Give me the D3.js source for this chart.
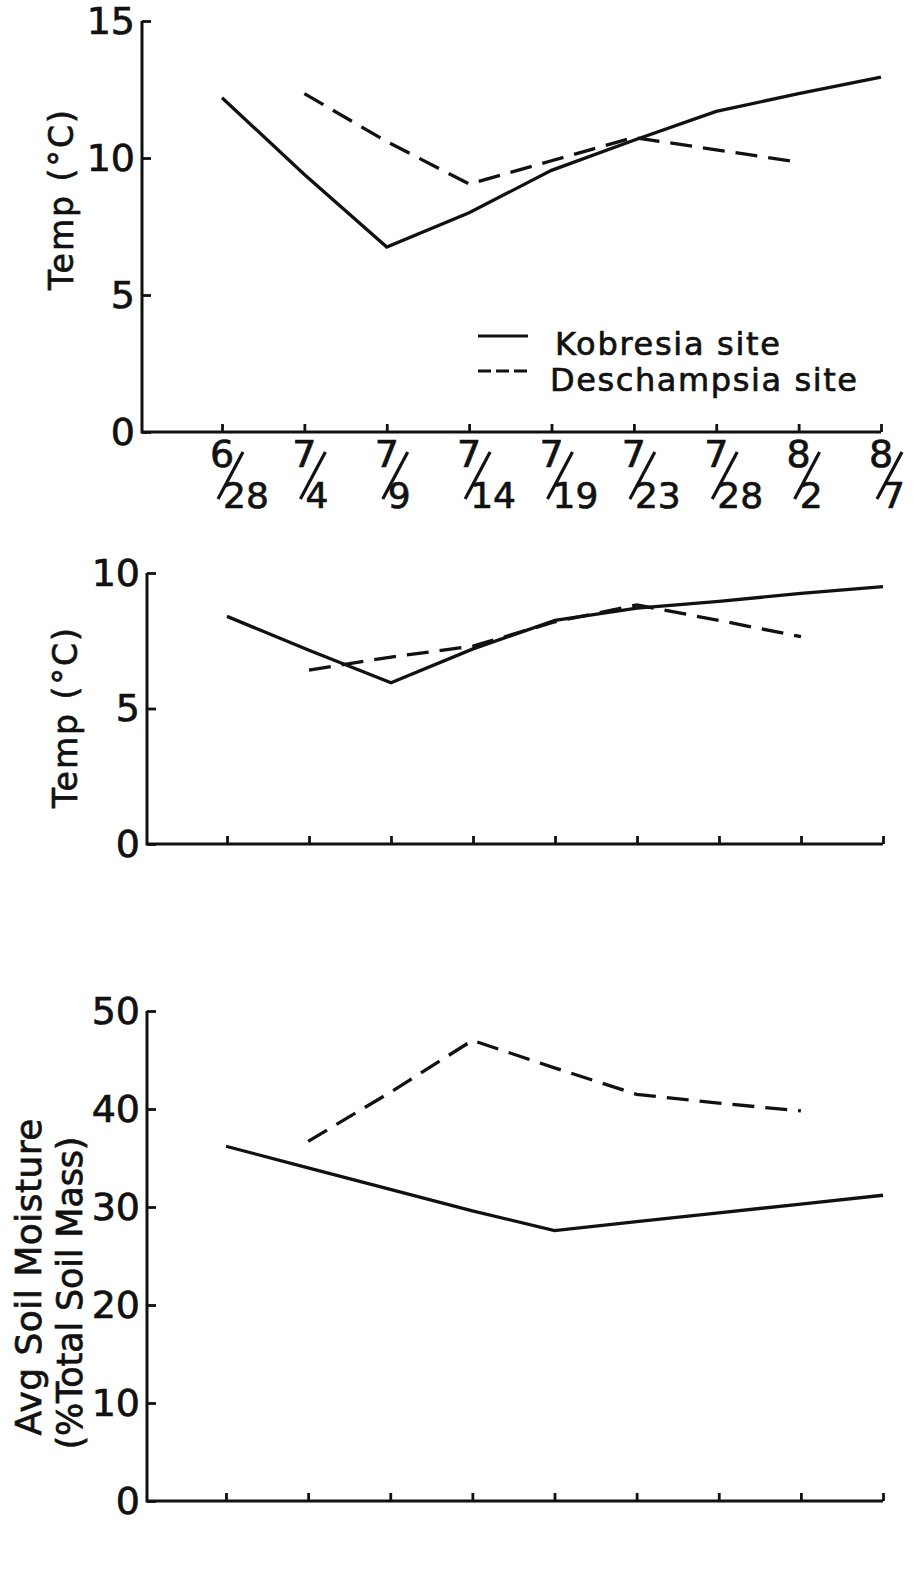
<!DOCTYPE html>
<html>
<head>
<meta charset="utf-8">
<script src="https://cdn.jsdelivr.net/npm/d3@7"></script>
<style>
  body { margin: 0; background: #fff; }
  text { font-family: "DejaVu Sans", sans-serif; fill: #111; stroke: #111; stroke-width: 0.7px; }
</style>
</head>
<body>
<svg id="chart"></svg>
<script>
// sampling dates (month/day)
const dates = ["6/28", "7/4", "7/9", "7/14", "7/19", "7/23", "7/28", "8/2", "8/7"];

// top panel: air temp (C)
const airKobresia = [12.2, 9.4, 6.75, 8.0, 9.55, 10.65, 11.7, 12.35, 12.95];
const airDeschampsia = [null, 12.35, 10.6, 9.05, 9.9, 10.75, 10.3, 9.85, null];

// middle panel: soil temp (C)
const soilKobresia = [8.4, 7.15, 5.95, 7.2, 8.25, 8.7, 8.95, 9.25, 9.5];
const soilDeschampsia = [null, 6.42, 6.9, 7.3, 8.2, 8.82, 8.25, 7.65, null];

// bottom panel: soil moisture (% total soil mass)
const moistKobresia = [36.2, 34.0, 31.8, 29.6, 27.6, 28.5, 29.4, 30.3, 31.2];
const moistDeschampsia = [null, 36.7, 41.7, 47.0, 44.2, 41.5, 40.6, 39.8, null];

const airTicks = [0, 5, 10, 15];
const soilTicks = [0, 5, 10];
const moistTicks = [0, 10, 20, 30, 40, 50];

const legendLabels = ["Kobresia site", "Deschampsia site"];

const width = 920;
const height = 1575;

const svg = d3.select("#chart")
  .attr("width", width)
  .attr("height", height);

svg.append("rect").attr("width", width).attr("height", height).style("fill", "#fff");

// layout of the three stacked panels
const panels = [
  {left: 142, top: 21, bottom: 432, x0: 222, x1: 881, max: 15, ticks: airTicks,
   kob: airKobresia, des: airDeschampsia, labels: true,
   titles: [{text: "Temp (°C)", x: 73, y: 200, size: 33, len: 180}]},
  {left: 147, top: 573, bottom: 844, x0: 227, x1: 883, max: 10, ticks: soilTicks,
   kob: soilKobresia, des: soilDeschampsia, labels: false,
   titles: [{text: "Temp (°C)", x: 77, y: 718, size: 33, len: 180}]},
  {left: 147, top: 1011, bottom: 1501, x0: 226, x1: 883, max: 50, ticks: moistTicks,
   kob: moistKobresia, des: moistDeschampsia, labels: false,
   titles: [{text: "Avg Soil Moisture", x: 41, y: 1277, size: 36, len: 317},
            {text: "(%Total Soil Mass)", x: 82, y: 1293, size: 35, len: 313}]}
];

const toPoints = (arr) => dates.map((d, i) => ({date: d, v: arr[i]})).filter(d => d.v != null);

drawPanel = (p) => {
  const x = d3.scalePoint().domain(dates).range([p.x0, p.x1]);
  const y = d3.scaleLinear().domain([0, p.max]).range([p.bottom, p.top]);
  const g = svg.append("g");

  // y axis, ticks point inwards
  g.append("g")
    .attr("transform", `translate(${p.left},0)`)
    .call(d3.axisLeft(y).tickValues(p.ticks).tickSize(-9).tickPadding(7))
    .call(a => a.select(".domain").remove())
    .call(a => a.selectAll("line").style("stroke", "#111").style("stroke-width", 2.8))
    .call(a => a.selectAll("text").style("font-size", "38px").style("font-family", "DejaVu Sans").style("fill", "#111"));

  // x axis ticks (no text from the axis itself)
  g.append("g")
    .attr("transform", `translate(0,${p.bottom})`)
    .call(d3.axisBottom(x).tickSize(-8).tickFormat(""))
    .call(a => a.select(".domain").remove())
    .call(a => a.selectAll("line").style("stroke", "#111").style("stroke-width", 2.8));

  // the L shaped frame
  g.append("path")
    .attr("d", `M${p.left},${y(p.max)}V${y(0)}H${x(dates[dates.length - 1])}`)
    .style("fill", "none")
    .style("stroke", "#111")
    .style("stroke-width", 3);

  const line = d3.line().x(d => x(d.date)).y(d => y(d.v));

  g.append("path")
    .datum(toPoints(p.kob))
    .attr("d", line)
    .style("fill", "none")
    .style("stroke", "#111")
    .style("stroke-width", 3.3);

  g.append("path")
    .datum(toPoints(p.des))
    .attr("d", line)
    .style("fill", "none")
    .style("stroke", "#111")
    .style("stroke-width", 3.3)
    .style("stroke-dasharray", "22,11");

  p.titles.forEach(t => {
    g.append("text")
      .attr("transform", `translate(${t.x},${t.y}) rotate(-90)`)
      .attr("text-anchor", "middle")
      .attr("textLength", t.len)
      .style("font-size", t.size + "px")
      .text(t.text);
  });

  // date labels drawn like fractions: 6 / 28
  if (p.labels) {
    const lab = g.selectAll(".date")
      .data(dates)
      .join("g")
        .attr("class", "date")
        .attr("transform", d => `translate(${x(d)},${p.bottom})`);

    lab.append("text")
      .attr("text-anchor", "middle")
      .attr("y", 35)
      .style("font-size", "38px")
      .text(d => d.split("/")[0]);

    lab.append("line")
      .attr("x1", -4).attr("y1", 67)
      .attr("x2", 21).attr("y2", 20)
      .style("stroke", "#111")
      .style("stroke-width", 3.2);

    lab.append("text")
      .attr("text-anchor", "start")
      .attr("x", 1)
      .attr("y", 76)
      .style("font-size", "36px")
      .text(d => d.split("/")[1]);
  }
};

panels.forEach(p => drawPanel(p));

// legend in the top panel
const legend = svg.append("g");
const legendRows = [
  {label: legendLabels[0], dash: null, y: 336, tx: 555, ty: 355, len: 225},
  {label: legendLabels[1], dash: "13,5", y: 371, tx: 550, ty: 391, len: 307}
];
legendRows.forEach(r => {
  legend.append("line")
    .attr("x1", 478).attr("x2", 528)
    .attr("y1", r.y).attr("y2", r.y)
    .style("stroke", "#111")
    .style("stroke-width", 2.8)
    .style("stroke-dasharray", r.dash);
  legend.append("text")
    .attr("x", r.tx)
    .attr("y", r.ty)
    .attr("textLength", r.len)
    .style("font-size", "32px")
    .text(r.label);
});
</script>
</body>
</html>
